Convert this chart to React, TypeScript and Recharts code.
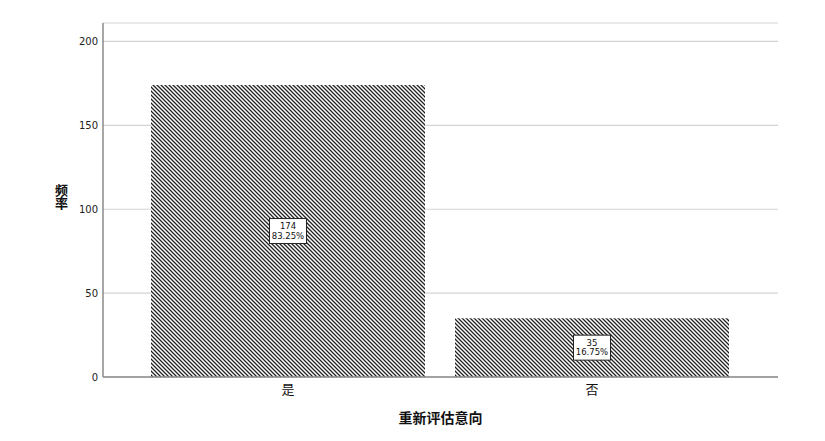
import React from 'react';
import { BarChart, Bar, XAxis, YAxis, CartesianGrid, LabelList } from 'recharts';

const categories = ['是', '否'];
const counts = [174, 35];
const percents = ['83.25%', '16.75%'];
const yTicks = [0, 50, 100, 150, 200];

const data = categories.map((name, i) => ({ name, count: counts[i], pct: percents[i] }));

const FONT = '"Noto Sans", "Noto Sans CJK SC", sans-serif';
const NUM_FONT = '"DejaVu Sans", sans-serif';

function BoxLabel(props: any) {
    const { x, y, width, height, index } = props;
    const cx = x + width / 2;
    const cy = y + height / 2;
    const w = 37;
    const h = 25;
    return (
        <g>
            <rect x={cx - w / 2} y={cy - h / 2} width={w} height={h} fill="#fff" stroke="#222" strokeWidth={1} />
            <text textAnchor="middle" fontSize={8.5} fill="#111" fontFamily={NUM_FONT}>
                <tspan x={cx} y={cy - 2}>{counts[index]}</tspan>
                <tspan x={cx} y={cy + 7.5}>{percents[index]}</tspan>
            </text>
        </g>
    );
}

export default function App() {
    return (
        <div style={{ position: 'relative', width: 825, height: 441, background: '#fff', fontFamily: FONT }}>
            <style>{`body{margin:0}`}</style>
            <BarChart
                width={825}
                height={441}
                data={data}
                margin={{ top: 23, right: 47, left: 63, bottom: 34 }}
                barCategoryGap={15}
            >
                <defs>
                    <pattern id="hatch" width="4" height="4" patternUnits="userSpaceOnUse">
                        <rect width="4" height="4" fill="#fff" />
                        <path d="M0,0 L4,4 M-1,3 L1,5 M3,-1 L5,1" stroke="#222" strokeWidth={1.3} />
                    </pattern>
                </defs>
                <CartesianGrid vertical={false} stroke="#d4d4d4" strokeWidth={1.2} />
                <XAxis
                    dataKey="name"
                    padding={{ left: 33, right: 34 }}
                    axisLine={{ stroke: '#8a8a8a', strokeWidth: 1.5 }}
                    tickLine={false}
                    tickSize={0}
                    tickMargin={8}
                    tick={{ fill: '#111', fontSize: 13, fontFamily: FONT }}
                    height={30}
                />
                <YAxis
                    width={40}
                    domain={[0, 211]}
                    ticks={yTicks}
                    allowDataOverflow
                    axisLine={{ stroke: '#8a8a8a', strokeWidth: 1.5 }}
                    tickLine={false}
                    tickSize={5}
                    tickMargin={0}
                    tick={{ fill: '#222', fontSize: 10, fontFamily: NUM_FONT }}
                />
                <Bar dataKey="count" fill="url(#hatch)" isAnimationActive={false}>
                    <LabelList dataKey="count" content={<BoxLabel />} />
                </Bar>
            </BarChart>
            <div
                style={{
                    position: 'absolute',
                    left: 53,
                    top: 184,
                    width: 15,
                    fontSize: 13,
                    lineHeight: '15px',
                    fontWeight: 'bold',
                    writingMode: 'vertical-rl',
                    textOrientation: 'upright',
                    color: '#111',
                }}
            >
                频率
            </div>
            <div
                style={{
                    position: 'absolute',
                    left: 340,
                    top: 407,
                    width: 201,
                    fontSize: 14,
                    fontWeight: 'bold',
                    textAlign: 'center',
                    color: '#111',
                }}
            >
                重新评估意向
            </div>
        </div>
    );
}
